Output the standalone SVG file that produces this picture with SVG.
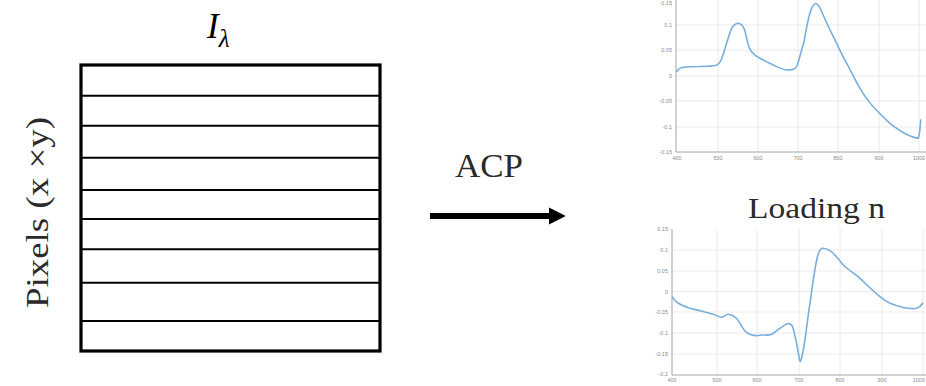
<svg xmlns="http://www.w3.org/2000/svg" width="926" height="386" viewBox="0 0 926 386">
<defs>
<style>
.lbl{font-family:"Liberation Serif","DejaVu Serif",serif;fill:#2a2a2a}
.tick{font-family:"Liberation Sans",sans-serif;font-size:5.5px;fill:#8a8a8a}
.grid{stroke:#e4e4e4;stroke-width:0.8;fill:none}
.ax{stroke:#9a9a9a;stroke-width:0.9;fill:none}
.curve{stroke:#78aedb;stroke-width:1.6;fill:none;stroke-linejoin:round;stroke-linecap:round}
.row{stroke:#000;stroke-width:2}
</style>
<marker id="ah" markerWidth="4" markerHeight="4" refX="0" refY="2" orient="auto" markerUnits="strokeWidth">
<path d="M0,0.6 L2.8,2 L0,3.4 Z" fill="#000"/>
</marker>
</defs>
<rect width="926" height="386" fill="#fff"/>

<g id="cube">
<text x="207" y="38" font-family="'Liberation Serif',serif" fill="#000" font-style="italic" font-size="35">I<tspan font-size="25" dy="9">λ</tspan></text>
<rect x="81" y="65" width="299" height="286" fill="#fff" stroke="#000" stroke-width="3.2"/>
<line class="row" x1="81" y1="95.7" x2="380" y2="95.7"/>
<line class="row" x1="81" y1="125.7" x2="380" y2="125.7"/>
<line class="row" x1="81" y1="157.7" x2="380" y2="157.7"/>
<line class="row" x1="81" y1="190" x2="380" y2="190"/>
<line class="row" x1="81" y1="219" x2="380" y2="219"/>
<line class="row" x1="81" y1="249.3" x2="380" y2="249.3"/>
<line class="row" x1="81" y1="282.7" x2="380" y2="282.7"/>
<line class="row" x1="81" y1="321" x2="380" y2="321"/>
</g>

<g id="pixels-label">
<text class="lbl" font-size="31" transform="translate(48,308) rotate(-90)" textLength="191" lengthAdjust="spacingAndGlyphs">Pixels (x ×y)</text>
</g>

<g id="connectors">
<text x="455" y="177" class="lbl" font-size="33" textLength="68" lengthAdjust="spacingAndGlyphs">ACP</text>
<line x1="430" y1="216" x2="549" y2="216" stroke="#000" stroke-width="6" marker-end="url(#ah)"/>
</g>

<g id="plot-top">
<g class="grid">
<line x1="718" y1="0" x2="718" y2="152"/><line x1="758" y1="0" x2="758" y2="152"/>
<line x1="798" y1="0" x2="798" y2="152"/><line x1="838" y1="0" x2="838" y2="152"/>
<line x1="879" y1="0" x2="879" y2="152"/><line x1="919" y1="0" x2="919" y2="152"/>
<line x1="676" y1="25" x2="926" y2="25"/><line x1="676" y1="50" x2="926" y2="50"/>
<line x1="676" y1="76" x2="926" y2="76"/><line x1="676" y1="101" x2="926" y2="101"/>
<line x1="676" y1="127" x2="926" y2="127"/>
</g>
<path class="ax" d="M676,0 V152 H926"/>
<g class="tick" text-anchor="end">
<text x="672" y="5">0.15</text><text x="672" y="27">0.1</text><text x="672" y="52">0.05</text>
<text x="672" y="78">0</text><text x="672" y="103">-0.05</text><text x="672" y="129">-0.1</text><text x="672" y="154">-0.15</text>
</g>
<g class="tick" text-anchor="middle">
<text x="677" y="160">400</text><text x="718" y="160">500</text><text x="758" y="160">600</text>
<text x="798" y="160">700</text><text x="838" y="160">800</text><text x="879" y="160">900</text><text x="919" y="160">1000</text>
</g>
<path class="curve" d="M676.7,71.7 C678,69 680,67.8 683,67.3 L690,66.7 L700,66.5 C708,66 713,66.5 716.7,65 C719,64 720.5,62 722,58 C725,49 728,38 731,30 C733,25 735,23.5 738.3,23.3 C741,23.5 743,25 745,31 C747,40 748,47 751,51 C754,55 757,57 760,58.3 C765,61 769,63 773.3,65 C778,67 783,70 787,70 C791,70 795,70 797,66 C799,60 801,52 804,42 C806,30 808,18 811,10 C813,5 814,3.5 815.5,3.5 C817,3.5 818.5,5 820.5,9 C824,17 829,28 833.3,36.7 C838,46 842,55 846.7,63.3 C851,71 855,80 860,88.3 C864,95 868,101 873.3,106.7 C879,113 884,118 890,123.3 C896,128 901,131.5 906.7,134.5 C911,136.5 915,138 918.3,138.3 C919.5,135 920.2,128 920.7,120"/>
</g>

<g id="plot-bottom">
<text x="748" y="218" class="lbl" font-size="30" textLength="137" lengthAdjust="spacingAndGlyphs">Loading n</text>
<g class="grid">
<line x1="717" y1="229" x2="717" y2="375"/><line x1="757" y1="229" x2="757" y2="375"/>
<line x1="799" y1="229" x2="799" y2="375"/><line x1="840" y1="229" x2="840" y2="375"/>
<line x1="882" y1="229" x2="882" y2="375"/><line x1="923" y1="229" x2="923" y2="375"/>
<line x1="672" y1="250" x2="926" y2="250"/><line x1="672" y1="271" x2="926" y2="271"/>
<line x1="672" y1="291.7" x2="926" y2="291.7"/><line x1="672" y1="312" x2="926" y2="312"/>
<line x1="672" y1="333" x2="926" y2="333"/><line x1="672" y1="354" x2="926" y2="354"/>
</g>
<path class="ax" d="M672,229 V375 H926"/>
<g class="tick" text-anchor="end">
<text x="668" y="231">0.15</text><text x="668" y="252">0.1</text><text x="668" y="273">0.05</text>
<text x="668" y="293.5">0</text><text x="668" y="314">-0.05</text><text x="668" y="335">-0.1</text>
<text x="668" y="356">-0.15</text><text x="668" y="376">-0.2</text>
</g>
<g class="tick" text-anchor="middle">
<text x="672" y="382">400</text><text x="717" y="382">500</text><text x="757" y="382">600</text>
<text x="799" y="382">700</text><text x="840" y="382">800</text><text x="882" y="382">900</text>
<text x="925" y="382" text-anchor="end">1000</text>
</g>
<path class="curve" d="M672.7,297.3 C674,300 676,302 678.3,303.3 C682,305.5 686,307 690,308.3 C694,309.5 697,310 700,310.7 C705,312 709,313 713.3,314.3 C717,315.5 719,317.5 721.7,317.3 C724,317 726,314 728.3,314.3 C731,314.6 734,316 736.7,318.5 C740,322 743,330 746.7,332.7 C750,335 753,335.7 756.7,335.7 C760,335.5 761,335 763.3,335 C766,335 769,335.5 771.7,334.3 C775,332.5 777,330 780,328.3 C783,326.5 786,323.5 788.5,323.5 C791,323.5 792,324.5 793,328 C795,335 797,345 798.5,354 C799.2,358 799.6,361.5 800.2,361.5 C801,361 802,357 803.5,349 C806,335 808,315 810,303.3 C812,290 814,272 816.7,260 C818,254 820,249 822,248.3 C825,248 828,249.5 830,250.7 C835,254 839,260 843.3,265 C848,269.5 854,273.5 860,278.3 C866,284 873,291 880,296.7 C884,300 887,302 890,303.3 C895,305.5 899,306.5 903.3,307.5 C908,308.5 913,309 916.7,308.3 C919.5,307.5 921,306 922.7,303.3"/>
</g>
</svg>
